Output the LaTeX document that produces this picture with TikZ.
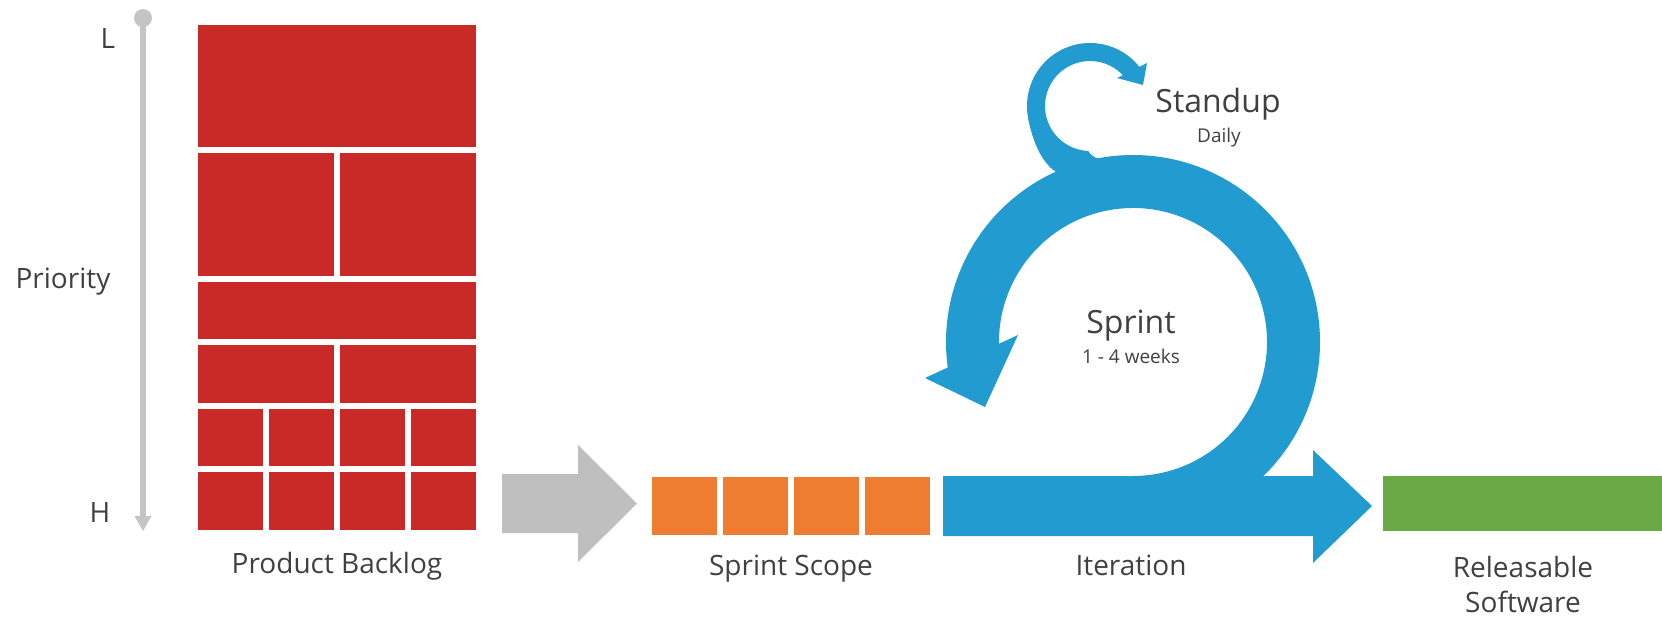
\documentclass[tikz,border=0pt]{standalone}
\usepackage{fontspec}
\setmainfont{Open Sans}
\usetikzlibrary{calc}
\definecolor{bred}{HTML}{CA2A27}
\definecolor{sorange}{HTML}{EE7D31}
\definecolor{iblue}{HTML}{229BD0}
\definecolor{rgreen}{HTML}{6BA846}
\definecolor{agray}{HTML}{BFBFBF}
\definecolor{axgray}{HTML}{C4C4C4}
\definecolor{txt}{HTML}{404040}
\begin{document}
\begin{tikzpicture}[x=1pt,y=-1pt,
  lbl/.style={text=txt, inner sep=0pt, anchor=base, font=\fontsize{28}{34}\selectfont},
  big/.style={lbl, font=\fontsize{32}{38}\selectfont},
  small/.style={lbl, font=\fontsize{19}{23}\selectfont},
  block/.style={fill=bred},
  scope/.style={fill=sorange},
  flow/.style={fill=iblue}]
\useasboundingbox (0,0) rectangle (1662,619);

% priority axis
\draw[axgray, line width=6] (143,18) -- (143,518);
\fill[axgray] (143,18) circle[radius=9];
\fill[axgray] (134.5,516) -- (151.5,516) -- (143,531) -- cycle;
\node[lbl] (L) at (108,48) {L};
\node[lbl] (prio) at (63,288) {Priority};
\node[lbl] (H) at (100,522) {H};

% product backlog
\fill[block] (198,25) rectangle (476,147);
\fill[block] (198,153) rectangle (334,276);
\fill[block] (340,153) rectangle (476,276);
\fill[block] (198,282) rectangle (476,339);
\fill[block] (198,345) rectangle (334,403);
\fill[block] (340,345) rectangle (476,403);
\foreach \x in {198,269,340,411}{
  \fill[block] (\x,409) rectangle ++(65,57);
  \fill[block] (\x,472) rectangle ++(65,58);
}
\node[lbl] (pb) at (337,573) {Product Backlog};

% gray arrow
\fill[agray] (502,474) -- (578,474) -- (578,445) -- (637,503.5) -- (578,562) -- (578,533) -- (502,533) -- cycle;

% sprint scope
\foreach \x in {652,723,794,865}{
  \fill[scope] (\x,477) rectangle ++(65,58);
}
\node[lbl] (ss) at (791,575) {Sprint Scope};

% sprint loop
\coordinate (C) at (1133,342);
\fill[flow] ($(C)+(90:187)$) arc[start angle=90, end angle=-190, radius=187]
  -- ($(C)+(-190:134)$) arc[start angle=-190, end angle=90, radius=134] -- cycle;
\fill[flow] (925,378) -- (1018,335) -- (985,407) -- cycle;

% standup loop
\coordinate (S) at (1090,106);
\fill[flow] ($(S)+(-268:63)$) arc[start angle=-268, end angle=-37, radius=63]
  -- ($(S)+(-37:45)$) arc[start angle=-37, end angle=-268, radius=45] -- cycle;
\fill[flow] (1028,117) .. controls (1032,140) and (1041,162) .. (1056,172) -- (1090,165) -- (1064,154) -- (1036,118) -- cycle;
\fill[flow] (1088,151) .. controls (1094,158) .. (1110,161) -- (1088,166) -- cycle;
\fill[flow] (1117,78) -- (1147,63) -- (1143,85) -- cycle;

% iteration arrow
\fill[flow] (943,476) -- (1313,476) -- (1313,450) -- (1372,506) -- (1313,563) -- (1313,536) -- (943,536) -- cycle;
\node[lbl] (it) at (1131,575) {Iteration};

\node[big] (su) at (1218,112) {Standup};
\node[small] (daily) at (1219,142) {Daily};
\node[big] (sp) at (1131,333) {Sprint};
\node[small] (wk) at (1131,363) {1 - 4 weeks};

% releasable software
\fill[rgreen] (1383,476) rectangle (1662,531);
\node[lbl] (rs1) at (1523,577) {Releasable};
\node[lbl] (rs2) at (1523,612) {Software};
\end{tikzpicture}
\end{document}
